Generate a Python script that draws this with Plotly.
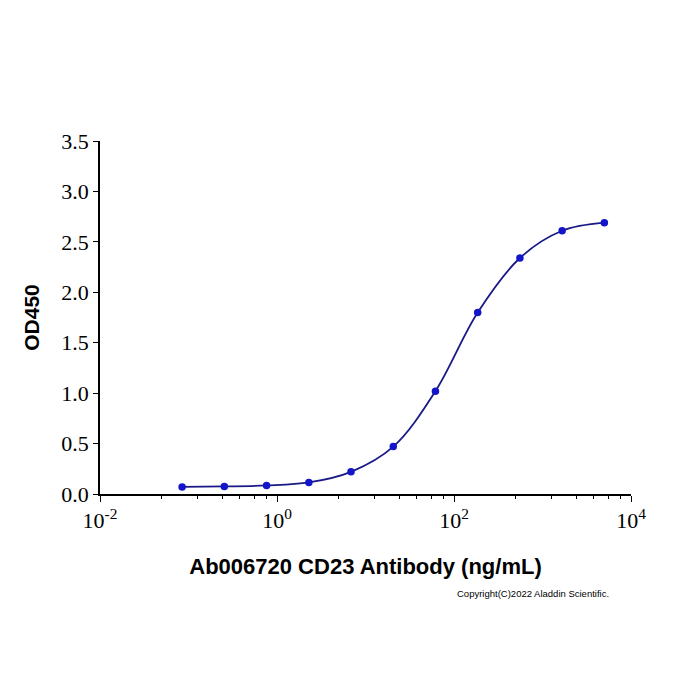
import plotly.graph_objects as go

# Data
concentration = [0.0847, 0.254, 0.762, 2.29, 6.86, 20.6, 61.7, 185.2, 555.6, 1666.7, 5000]
od450 = [0.07, 0.075, 0.085, 0.115, 0.22, 0.47, 1.02, 1.80, 2.34, 2.61, 2.69]

x_tick_vals = [0.01, 1, 100, 10000]
x_tick_text = ["10<sup>-2</sup>", "10<sup>0</sup>", "10<sup>2</sup>", "10<sup>4</sup>"]
y_tick_vals = [0.0, 0.5, 1.0, 1.5, 2.0, 2.5, 3.0, 3.5]
y_tick_text = ["0.0", "0.5", "1.0", "1.5", "2.0", "2.5", "3.0", "3.5"]
minor_factors = [5, 12.5, 24, 38, 56, 76]
minor_vals = [b * f for b in [0.01, 1, 100] for f in minor_factors]

fig = go.Figure()
fig.add_trace(go.Scatter(
    x=concentration, y=od450, mode="lines",
    line=dict(color="#1a1a86", width=1.8, shape="spline", smoothing=1.0),
    hoverinfo="skip", showlegend=False,
))
fig.add_trace(go.Scatter(
    x=concentration, y=od450, mode="markers",
    marker=dict(color="#1414c8", size=7.5),
    showlegend=False,
))

fig.update_layout(
    width=700, height=700,
    margin=dict(l=100, r=69, t=141, b=206),
    paper_bgcolor="white", plot_bgcolor="white",
    font=dict(family="Liberation Serif", color="black"),
    xaxis=dict(
        type="log", range=[-2, 4],
        tickmode="array", tickvals=x_tick_vals, ticktext=x_tick_text,
        ticks="outside", ticklen=6, tickwidth=1.3, tickcolor="black",
        showline=True, linecolor="black", linewidth=1.5,
        showgrid=False, zeroline=False,
        tickfont=dict(family="Liberation Serif", size=22, color="black"),
        minor=dict(tickmode="array", tickvals=minor_vals, ticks="outside",
                   ticklen=3, tickwidth=1, tickcolor="black", showgrid=False),
        title=dict(text="<b>Ab006720 CD23 Antibody (ng/mL)</b>",
                   font=dict(family="Liberation Sans", size=22, color="black"),
                   standoff=26),
    ),
    yaxis=dict(
        range=[0, 3.5],
        tickmode="array", tickvals=y_tick_vals, ticktext=y_tick_text,
        ticks="outside", ticklen=5, tickwidth=1.3, tickcolor="black",
        showline=True, linecolor="black", linewidth=1.5,
        showgrid=False, zeroline=False,
        tickfont=dict(family="Liberation Serif", size=22, color="black"),
        title=dict(text="<b>OD450</b>",
                   font=dict(family="Liberation Sans", size=21, color="black"),
                   standoff=16),
    ),
    annotations=[dict(
        text="Copyright(C)2022 Aladdin Scientific.",
        xref="paper", yref="paper", x=0.962, y=-0.283,
        xanchor="right", yanchor="middle", showarrow=False,
        font=dict(family="Liberation Sans", size=9.5, color="black"),
    )],
)

fig.write_html("out.html")
